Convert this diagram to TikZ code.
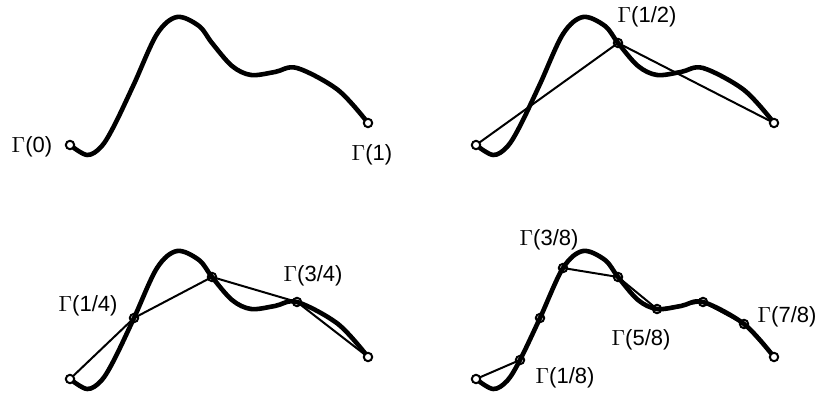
\documentclass[tikz,border=0pt]{standalone}
\usepackage{fontspec}
\setmainfont{Liberation Sans}
\tikzset{
  curve/.style={line width=2.3pt, line cap=round, line join=round},
  chord/.style={line width=1pt, line join=round},
  samplept/.style={circle, draw, line width=1pt, inner sep=0pt, minimum size=4.2pt},
  endpt/.style={samplept, fill=white},
  lbl/.style={inner sep=0pt, font=\fontsize{11}{13}\selectfont}
}
\newcommand\gpts[1]{%
  \coordinate (#1-0) at (70,145);
  \coordinate (#1-1) at (114,126);
  \coordinate (#1-2) at (134,84);
  \coordinate (#1-3) at (157,34);
  \coordinate (#1-4) at (212,43);
  \coordinate (#1-5) at (251,75);
  \coordinate (#1-6) at (297,68);
  \coordinate (#1-7) at (338,90);
  \coordinate (#1-8) at (368,123);
  \draw[curve] plot[smooth,tension=0.55] coordinates {(#1-0) (87,155) (101,147) (#1-1) (#1-2) (#1-3) (177,17) (199,26) (#1-4) (232,66) (#1-5) (275,72) (#1-6) (#1-7) (#1-8)};
}
\begin{document}
\begin{tikzpicture}[x=0.5pt,y=-0.5pt]
\useasboundingbox (0,0) rectangle (817,394);
% panel 1
\begin{scope}
  \gpts{a}
  \foreach \i in {0,8} \node[endpt] (a-c\i) at (a-\i) {};
\end{scope}
% panel 2
\begin{scope}[shift={(406,0)}]
  \gpts{b}
  \draw[chord] (b-0) -- (b-4) -- (b-8);
  \node[samplept] (b-c4) at (b-4) {};
  \foreach \i in {0,8} \node[endpt] (b-c\i) at (b-\i) {};
\end{scope}
% panel 3
\begin{scope}[shift={(0,234)}]
  \gpts{c}
  \draw[chord] (c-0) -- (c-2) -- (c-4) -- (c-6) -- (c-8);
  \foreach \i in {2,4,6} \node[samplept] (c-c\i) at (c-\i) {};
  \foreach \i in {0,8} \node[endpt] (c-c\i) at (c-\i) {};
\end{scope}
% panel 4
\begin{scope}[shift={(406,234)}]
  \gpts{d}
  \draw[chord] (d-0) -- (d-1) -- (d-2) -- (d-3) -- (d-4) -- (d-5) -- (d-6) -- (d-7) -- (d-8);
  \foreach \i in {1,...,7} \node[samplept] (d-c\i) at (d-\i) {};
  \foreach \i in {0,8} \node[endpt] (d-c\i) at (d-\i) {};
\end{scope}
% labels
\node[lbl] (l0) at (32,147) {$\Gamma$(0)};
\node[lbl] (l1) at (372,155) {$\Gamma$(1)};
\node[lbl] (l12) at (647,17) {$\Gamma$(1/2)};
\node[lbl] (l14) at (88,306) {$\Gamma$(1/4)};
\node[lbl] (l34) at (313,276) {$\Gamma$(3/4)};
\node[lbl] (l38) at (549,240) {$\Gamma$(3/8)};
\node[lbl] (l58) at (641,340) {$\Gamma$(5/8)};
\node[lbl] (l78) at (787,317) {$\Gamma$(7/8)};
\node[lbl] (l18) at (565,378) {$\Gamma$(1/8)};
\end{tikzpicture}
\end{document}
